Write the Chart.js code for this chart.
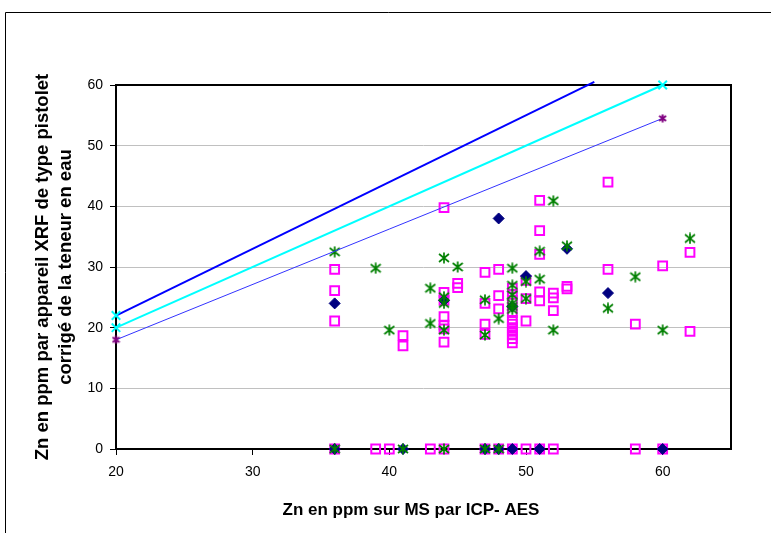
<!DOCTYPE html>
<html>
<head>
<meta charset="utf-8">
<script src="https://cdn.jsdelivr.net/npm/chart.js@4/dist/chart.umd.min.js"></script>
<style>
  html, body { margin: 0; padding: 0; background: #fff; }
</style>
</head>
<body>
<canvas id="zn" width="771" height="533"></canvas>
<script>
// Zn: XRF gun reading (corrected for moisture) vs ICP-AES on dry matter
const xTicks = [20, 30, 40, 50, 60];
const yTicks = [0, 10, 20, 30, 40, 50, 60];

// navy diamonds
const navyX = [36, 48, 53, 50, 56, 49, 44, 36, 41, 47, 48, 49, 51, 60];
const navyY = [24, 38, 33, 28.5, 25.7, 23.5, 24.5, 0, 0, 0, 0, 0, 0, 0];

// magenta squares
const pinkX = [36, 36, 36, 36, 39, 40, 41, 41, 43,
  44, 44, 44, 44, 44, 44, 44, 44, 45, 45,
  47, 47, 47, 47, 47, 48, 48, 48, 48,
  49, 49, 49, 49, 49, 49, 49, 49, 49, 49, 49, 49,
  50, 50, 50, 50, 51, 51, 51, 51, 51, 51,
  52, 52, 52, 52, 53, 53, 56, 56, 58, 58, 60, 60, 62, 62];
const pinkY = [29.6, 26.1, 21.1, 0, 0, 0, 18.7, 17.0, 0,
  39.8, 25.8, 24.5, 21.8, 20.4, 19.8, 17.6, 0, 27.3, 26.6,
  29.1, 24.0, 20.6, 18.9, 0, 29.6, 25.3, 23.1, 0,
  26.5, 25.5, 24.5, 22.5, 21.2, 20.6, 20.0, 19.4, 18.8, 18.2, 17.5, 0,
  27.8, 24.8, 21.1, 0, 41.0, 36.0, 32.1, 25.9, 24.4, 0,
  25.7, 24.9, 22.8, 0, 26.8, 26.4, 44.0, 29.6, 20.6, 0, 30.2, 0, 32.4, 19.4];

// green asterisks
const greenX = [36, 36, 39, 40, 41, 43, 43, 44, 44, 44, 44, 44, 45,
  47, 47, 47, 48, 48, 49, 49, 49, 49, 49, 49, 50, 50, 51, 51,
  52, 52, 53, 56, 58, 60, 62];
const greenY = [32.5, 0, 29.8, 19.6, 0, 26.5, 20.7, 31.5, 25.1, 24.0, 19.6, 0, 30.0,
  24.6, 18.8, 0, 21.5, 0, 29.8, 27.0, 25.4, 24.0, 23.5, 23.0, 27.6, 24.8, 32.6, 28.0,
  40.9, 19.6, 33.5, 23.2, 28.4, 19.6, 34.7];

// reference lines
const highX = [20, 55];
const highY = [22, 60.5];
const midX = [20, 60];
const midY = [20, 60];
const lowX = [20, 60];
const lowY = [18, 54.5];

const xTitle = 'Zn en ppm sur MS par ICP- AES';
const yTitle = ['Zn en ppm par appareil XRF de type pistolet', 'corrigé de la teneur en eau'];

const pts = (xs, ys) => xs.map((x, i) => ({ x: x, y: ys[i] }));

// Excel-like "*" marker: an X with a vertical bar
function asterisk(color, size, lw) {
  const c = document.createElement('canvas');
  c.width = c.height = size;
  const g = c.getContext('2d');
  g.strokeStyle = color;
  g.lineWidth = lw;
  const m = size / 2;
  g.beginPath();
  g.moveTo(m, 0.5); g.lineTo(m, size - 0.5);
  g.moveTo(1, 2); g.lineTo(size - 1, size - 2);
  g.moveTo(1, size - 2); g.lineTo(size - 1, 2);
  g.stroke();
  return c;
}

const greenStar = asterisk('#008000', 12, 1.7);
const purpleStar = asterisk('#800080', 9, 2);

const font = 'Arial, "Liberation Sans", sans-serif';

const frames = {
  id: 'frames',
  beforeDraw(chart) {
    const ctx = chart.ctx;
    ctx.save();
    ctx.fillStyle = '#fff';
    ctx.fillRect(0, 0, chart.width, chart.height);
    ctx.strokeStyle = '#000';
    ctx.lineWidth = 1;
    ctx.beginPath();
    ctx.moveTo(5.5, chart.height);
    ctx.lineTo(5.5, 12.5);
    ctx.lineTo(chart.width, 12.5);
    ctx.stroke();
    ctx.restore();
  },
  beforeDatasetsDraw(chart) {
    const a = chart.chartArea;
    const ctx = chart.ctx;
    ctx.save();
    ctx.strokeStyle = '#000';
    ctx.lineWidth = 2;
    ctx.strokeRect(a.left, a.top, a.right - a.left, a.bottom - a.top);
    ctx.restore();
  },
  afterDraw(chart) {
    // x axis title, set a little left of the plot centre
    const ctx = chart.ctx;
    ctx.save();
    ctx.fillStyle = '#000';
    ctx.font = 'bold 17px ' + font;
    ctx.textAlign = 'center';
    ctx.textBaseline = 'middle';
    ctx.fillText(xTitle, 411, 510);
    ctx.restore();
  }
};

new Chart(document.getElementById('zn'), {
  type: 'scatter',
  data: {
    datasets: [{
      data: pts(highX, highY),
      showLine: true,
      borderColor: '#0000FF',
      borderWidth: 2,
      pointStyle: 'crossRot',
      pointRadius: [6, 0],
      pointBorderColor: '#00FFFF',
      pointBorderWidth: 2,
      clip: false
    }, {
      data: pts(midX, midY),
      showLine: true,
      borderColor: '#00FFFF',
      borderWidth: 2,
      pointStyle: 'crossRot',
      pointRadius: 6,
      pointBorderColor: '#00FFFF',
      pointBorderWidth: 2,
      clip: false
    }, {
      data: pts(lowX, lowY),
      showLine: true,
      borderColor: '#3333FF',
      borderWidth: 1,
      pointStyle: purpleStar,
      clip: false
    }, {
      data: pts(greenX, greenY),
      pointStyle: greenStar,
      clip: false
    }, {
      data: pts(navyX, navyY),
      pointStyle: 'rectRot',
      pointRadius: 5.5,
      backgroundColor: '#000080',
      borderColor: '#000080',
      borderWidth: 1,
      clip: false
    }, {
      data: pts(pinkX, pinkY),
      pointStyle: 'rect',
      pointRadius: 6.2,
      backgroundColor: 'rgba(0,0,0,0)',
      borderColor: '#FF00FF',
      borderWidth: 2,
      clip: false
    }]
  },
  options: {
    responsive: false,
    animation: false,
    events: [],
    layout: { padding: { left: 0, top: 85, right: 40, bottom: 0 } },
    plugins: { legend: { display: false }, tooltip: { enabled: false } },
    scales: {
      x: {
        type: 'linear',
        min: 20,
        max: 65,
        afterFit: (s) => { s.height = 84; },
        afterBuildTicks: (s) => { s.ticks = xTicks.map(v => ({ value: v })); },
        border: { display: false },
        grid: { drawOnChartArea: false, drawTicks: true, tickLength: 6, tickColor: '#000', tickWidth: 1 },
        ticks: { color: '#000', padding: 9, font: { family: font, size: 14 } }
      },
      y: {
        min: 0,
        max: 60,
        afterFit: (s) => { s.width = 116; },
        afterBuildTicks: (s) => { s.ticks = yTicks.map(v => ({ value: v })); },
        border: { display: false },
        grid: { color: '#C0C0C0', lineWidth: 1, drawTicks: true, tickLength: 6, tickColor: '#000' },
        ticks: { color: '#000', padding: 7, font: { family: font, size: 14 } },
        title: {
          display: true,
          text: yTitle,
          color: '#000',
          font: { family: font, size: 18.5, weight: 'bold', lineHeight: 1.25 },
          padding: { top: 31, bottom: 0 }
        }
      }
    }
  },
  plugins: [frames]
});
</script>
</body>
</html>
